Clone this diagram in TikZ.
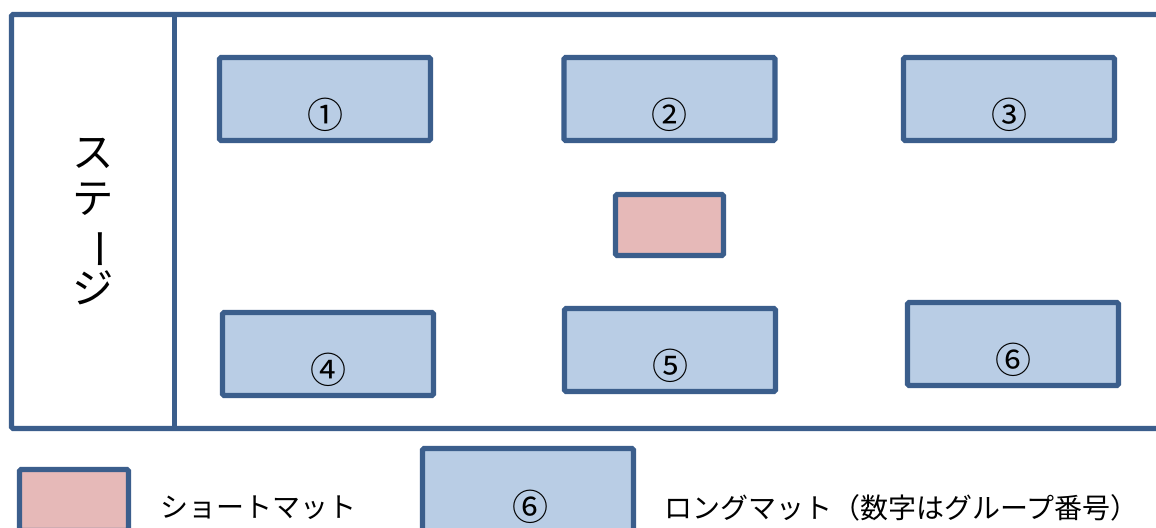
\documentclass[tikz,border=0pt]{standalone}
\usepackage{fontspec}
\setmainfont{Noto Sans CJK JP}
\definecolor{edge}{HTML}{3B5E8C}
\definecolor{matblue}{HTML}{B9CDE5}
\definecolor{matpink}{HTML}{E6B9B8}
\begin{document}
\begin{tikzpicture}[x=0.75pt,y=-0.75pt,
  longmat/.style={draw=edge,fill=matblue,line width=3.9pt,rounded corners=1.2pt,
    minimum width=158.25pt,minimum height=62.25pt,inner sep=0pt},
  shortmat/.style={draw=edge,fill=matpink,line width=3.9pt,rounded corners=1.2pt,
    minimum width=81pt,minimum height=45.75pt,inner sep=0pt},
  num/.style={font=\fontsize{27}{27}\selectfont,inner sep=0pt},
  legtext/.style={font=\fontsize{21}{21}\selectfont,anchor=west,inner sep=0pt}]
\clip (0,0) rectangle (1156,528);
\fill[white] (0,0) rectangle (1156,528);
% hall outline
\draw[edge,line width=3.9pt,rounded corners=1.2pt] (11.5,14.5) rectangle (1180,428.5);
\draw[edge,line width=3.9pt] (174.5,14.5) -- (174.5,428.5);
% stage label
\node[font=\fontsize{31}{34}\selectfont,align=center,inner sep=0pt] (stage) at (93,222)
  {ス\\テ\\\rotatebox[origin=c]{-90}{ー}\\ジ};
% long mats
\node[longmat] (m1) at (325,99) {};
\node[longmat] (m2) at (669.5,99) {};
\node[longmat] (m3) at (1009,99) {};
\node[longmat] (m4) at (328,354) {};
\node[longmat] (m5) at (670,350) {};
\node[longmat] (m6) at (1013,344) {};
\node[num] (n1) at ([yshift=-12pt]m1.center) {①};
\node[num] (n2) at ([yshift=-12pt]m2.center) {②};
\node[num] (n3) at ([yshift=-12pt]m3.center) {③};
\node[num] (n4) at ([yshift=-12pt]m4.center) {④};
\node[num] (n5) at ([yshift=-12pt]m5.center) {⑤};
\node[num] (n6) at ([yshift=-12pt]m6.center) {⑥};
% short mat
\node[shortmat] (s1) at (669.5,225) {};
% legend
\node[shortmat,minimum width=81.75pt] (ls) at (74,500) {};
\node[legtext] (lst) at (160,508) {ショートマット};
\node[longmat] (ll) at (528,490) {};
\node[num] (ln) at (530,507) {⑥};
\node[legtext] (llt) at (664,508) {ロングマット（数字はグループ番号）};
\end{tikzpicture}
\end{document}
